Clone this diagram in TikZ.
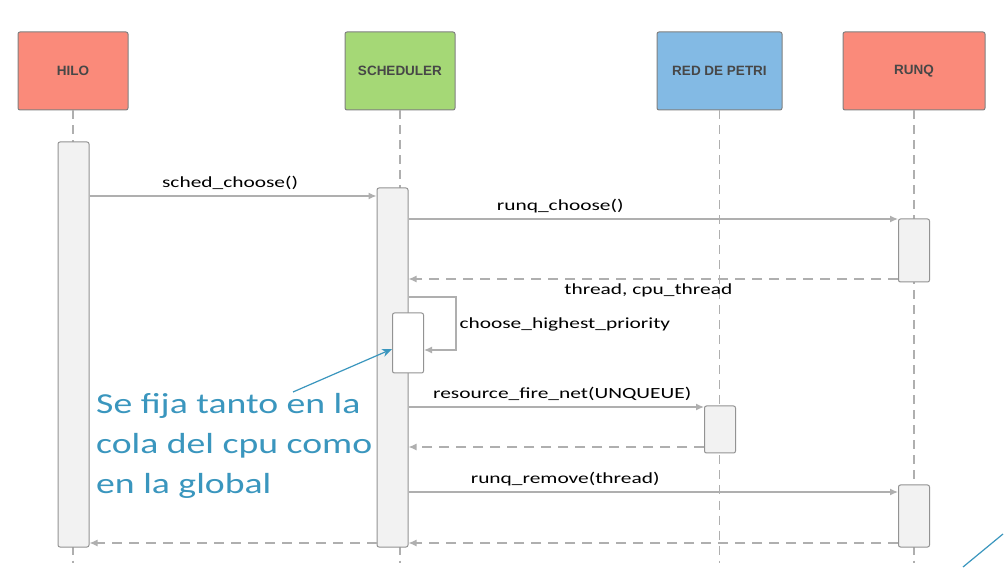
\documentclass[tikz,border=0pt]{standalone}
\usepackage{fontspec}
\setmainfont{Carlito}
\newfontfamily\actorfont{Liberation Sans}
\newfontfamily\lblfont[FakeStretch=1.38]{Carlito}
\newfontfamily\notefont[FakeStretch=1.3]{Carlito}
\usetikzlibrary{arrows.meta}
\definecolor{salmon}{RGB}{250,138,122}
\definecolor{schedgreen}{RGB}{165,216,118}
\definecolor{petriblue}{RGB}{131,186,228}
\definecolor{notecol}{RGB}{58,150,190}
\definecolor{linecol}{RGB}{175,175,175}
\tikzset{
  actor/.style={draw=gray, line width=1pt, rounded corners=2pt, minimum height=78pt,
    font=\actorfont\bfseries\fontsize{13.5}{15}\selectfont, text=black!72},
  bar/.style={draw=gray!85, line width=1pt, rounded corners=2pt, fill=gray!10, minimum width=31pt},
  life/.style={draw=linecol, line width=1.2pt, dash pattern=on 9pt off 6pt},
  msg/.style={draw=linecol, line width=1.3pt, -{Latex[length=8pt,width=7pt]}},
  reply/.style={msg, dash pattern=on 10pt off 7pt},
  lbl/.style={font=\lblfont\fontsize{15.5}{17}\selectfont, text=black}
}
\begin{document}
\begin{tikzpicture}[x=1pt,y=-1pt]
\useasboundingbox (0,0) rectangle (1005,569);
\fill[white] (0,0) rectangle (1005,569);
% actors
\node[actor, fill=salmon, minimum width=110pt] (hilo) at (73,71) {HILO};
\node[actor, fill=schedgreen, minimum width=110pt] (sched) at (400,71) {SCHEDULER};
\node[actor, fill=petriblue, minimum width=125pt] (petri) at (719.5,71) {RED DE PETRI};
\node[actor, fill=salmon, minimum width=142pt] (runq) at (914,71) {RUNQ};
% lifelines
\draw[life] (hilo.south) -- ++(0,452);
\draw[life] (sched.south) -- ++(0,452);
\draw[life] (petri.south) -- ++(0,452);
\draw[life] (runq.south) -- ++(0,452);
% activations
\node[bar, minimum height=405pt] (hilobar) at (73.5,344.5) {};
\node[bar, minimum height=359pt] (schedbar) at (392.5,367.5) {};
\node[bar, minimum height=63pt] (runqbar) at (914,250.5) {};
\node[bar, minimum height=60pt, fill=white] (selfbar) at (408,343) {};
\node[bar, minimum height=47pt] (petribar) at (720,429.5) {};
\node[bar, minimum height=62pt] (removebar) at (914,516) {};
%
\coordinate (a1) at (hilobar.east |- 0,196);
\coordinate (b1) at (schedbar.west |- 0,196);
\draw[msg] (a1) -- (b1) node[lbl, pos=0.49, above=2pt]{sched\_choose()};
%
\coordinate (a2) at (schedbar.east |- 0,219);
\coordinate (b2) at (runqbar.north west);
\draw[msg] (a2) -- (b2 |- a2) node[lbl, pos=0.31, above=2pt]{runq\_choose()};
\coordinate (a3) at (runqbar.west |- 0,279);
\coordinate (b3) at (schedbar.east |- 0,279);
\draw[reply] (a3) -- (b3) node[lbl, pos=0.51, below=1pt]{thread, cpu\_thread};
%
\coordinate (a4) at (schedbar.east |- 0,297);
\coordinate (b4) at (selfbar.east |- 0,350);
\draw[msg] (a4) -| (456,350) -- (b4);
\node[lbl, anchor=west] (prio) at (456,324) {choose\_highest\_priority};
%
\coordinate (a5) at (schedbar.east |- 0,407);
\coordinate (b5) at (petribar.west |- 0,407);
\draw[msg] (a5) -- (b5) node[lbl, pos=0.52, above=2pt]{resource\_fire\_net(UNQUEUE)};
\coordinate (a6) at (petribar.west |- 0,447);
\coordinate (b6) at (schedbar.east |- 0,447);
\draw[reply] (a6) -- (b6);
%
\coordinate (a7) at (schedbar.east |- 0,492);
\coordinate (b7) at (removebar.west |- 0,492);
\draw[msg] (a7) -- (b7) node[lbl, pos=0.32, above=2pt]{runq\_remove(thread)};
\coordinate (a8) at (removebar.west |- 0,543);
\coordinate (b8) at (schedbar.east |- 0,543);
\draw[reply] (a8) -- (b8);
\coordinate (a9) at (schedbar.west |- 0,543);
\coordinate (b9) at (hilobar.east |- 0,543);
\draw[reply] (a9) -- (b9);
% note
\node[anchor=north west, align=left, text=notecol, font=\notefont\fontsize{29}{40}\selectfont, inner sep=0pt]
  (note) at (96,393) {Se fija tanto en la\\cola del cpu como\\en la global};
\coordinate (notetip) at (293,392);
\draw[notecol, line width=1.2pt, -{Stealth[length=10pt,width=8pt]}] (notetip) -- (selfbar.west |- 0,349);
\draw[notecol, line width=1.2pt] (963,567) -- (1003,534);
\end{tikzpicture}
\end{document}
